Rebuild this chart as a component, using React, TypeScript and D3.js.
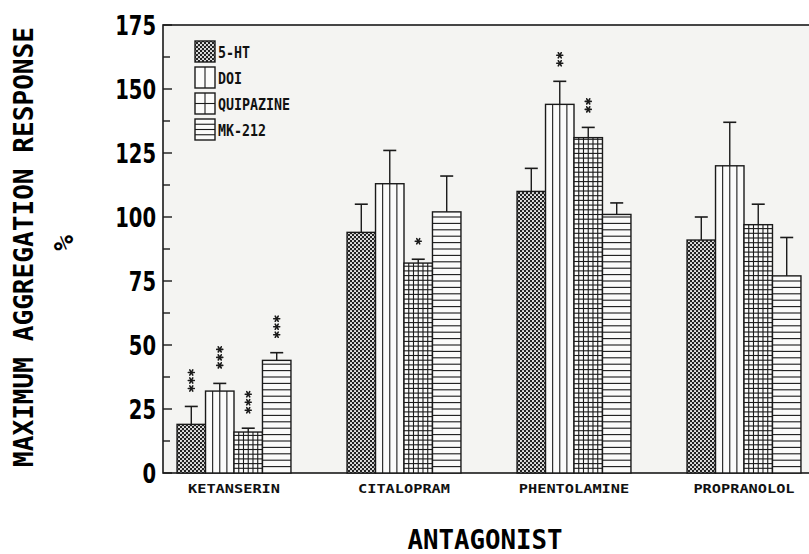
import { useMemo } from 'react';
import * as d3 from 'd3';

// Antagonist groups and agonist series
const CATEGORIES = ['KETANSERIN', 'CITALOPRAM', 'PHENTOLAMINE', 'PROPRANOLOL'];
const SERIES = ['5-HT', 'DOI', 'QUIPAZINE', 'MK-212'];

// mean maximum aggregation response (%), per series, per antagonist
const HT5 = [19, 94, 110, 91];
const DOI = [32, 113, 144, 120];
const QUIP = [16, 82, 131, 97];
const MK212 = [44, 102, 101, 77];

// error bar (upper SEM)
const HT5_ERR = [7, 11, 9, 9];
const DOI_ERR = [3, 13, 9, 17];
const QUIP_ERR = [1.5, 1.5, 4, 8];
const MK212_ERR = [3, 14, 4.5, 15];

// number of significance stars
const HT5_SIG = [3, 0, 0, 0];
const DOI_SIG = [3, 0, 2, 0];
const QUIP_SIG = [3, 1, 2, 0];
const MK212_SIG = [3, 0, 0, 0];

const Y_TICKS = [0, 25, 50, 75, 100, 125, 150, 175];

const W = 809;
const H = 554;
const INK = '#1a1a1a';
const MONO = "'DejaVu Sans Mono', monospace";
const COND = "'DejaVu Sans Condensed', 'DejaVu Sans', sans-serif";

const VALUES = [HT5, DOI, QUIP, MK212];
const ERRS = [HT5_ERR, DOI_ERR, QUIP_ERR, MK212_ERR];
const SIGS = [HT5_SIG, DOI_SIG, QUIP_SIG, MK212_SIG];

function Star({ cx, cy }: { cx: number; cy: number }) {
  const r = 3;
  const a = Math.PI / 3;
  return (
    <g stroke={INK} strokeWidth={1.6} strokeLinecap="round">
      {[0, a, 2 * a].map((t, i) => (
        <line key={i}
          x1={cx - r * Math.cos(t)} y1={cy - r * Math.sin(t)}
          x2={cx + r * Math.cos(t)} y2={cy + r * Math.sin(t)} />
      ))}
    </g>
  );
}

// hatch lines drawn inside a rect
function Hatch({ kind, x, y, w, h, base }: { kind: number; x: number; y: number; w: number; h: number; base: number }) {
  const lines: JSX.Element[] = [];
  if (kind === 1) {
    const n = w < 24 ? 2 : 4;
    for (let k = 1; k < n; k++) {
      const lx = x + (k * w) / n;
      lines.push(<line key={'v' + k} x1={lx} x2={lx} y1={y} y2={y + h} />);
    }
  } else if (kind === 2) {
    const nv = w < 24 ? 2 : 6;
    for (let k = 1; k < nv; k++) {
      const lx = x + (k * w) / nv;
      lines.push(<line key={'v' + k} x1={lx} x2={lx} y1={y} y2={y + h} />);
    }
    const step = w < 24 ? h / 2 : 4.7;
    for (let yy = base - step; yy > y + 0.5; yy -= step) {
      lines.push(<line key={'h' + yy} x1={x} x2={x + w} y1={yy} y2={yy} />);
    }
  } else if (kind === 3) {
    const step = w < 24 ? h / 4 : 6.4;
    for (let yy = base - step; yy > y + 0.5; yy -= step) {
      lines.push(<line key={'h' + yy} x1={x} x2={x + w} y1={yy} y2={yy} />);
    }
  }
  return <g stroke={INK} strokeWidth={1.1}>{lines}</g>;
}

export default function App() {
  const x0 = useMemo(() => d3.scaleBand<string>().domain(CATEGORIES)
    .range([149, 829]).paddingInner(0.33).paddingOuter(0.165), []);
  const x1 = useMemo(() => d3.scaleBand<string>().domain(SERIES)
    .range([0, x0.bandwidth()]).padding(0), [x0]);
  const y = useMemo(() => d3.scaleLinear().domain([0, 175]).range([473, 25]), []);

  const left = 163;
  const top = y(175);
  const bottom = y(0);
  const minor = d3.range(0, 175.01, 12.5);

  const fillFor = (s: number) => (s === 0 ? 'url(#dots)' : '#fbfbfa');

  return (
    <svg width={W} height={H} style={{ display: 'block', position: 'absolute', left: 0, top: 0, background: '#ffffff' }}>
      <defs>
        <pattern id="dots" width={4} height={4} patternUnits="userSpaceOnUse">
          <rect width={4} height={4} fill="#222" />
          <circle cx={1} cy={1} r={1.05} fill="#f2f2f2" />
          <circle cx={3} cy={3} r={1.05} fill="#f2f2f2" />
        </pattern>
      </defs>

      {/* plot frame */}
      <rect x={left} y={top} width={W + 20 - left} height={bottom - top} fill="#f4f4f2" stroke={INK} strokeWidth={1.6} />

      {/* y ticks */}
      {minor.map(v => (
        <line key={v} x1={left} x2={left + (v % 25 === 0 ? 9 : 7)} y1={y(v)} y2={y(v)} stroke={INK} strokeWidth={1.4} />
      ))}
      {Y_TICKS.map(v => {
        const s = String(v);
        return (
          <text key={v} x={156} y={y(v) + 10} textAnchor="end" fontFamily={COND} fontWeight="bold"
            fontSize={27} fill="#000" textLength={13.6 * s.length} lengthAdjust="spacingAndGlyphs">{s}</text>
        );
      })}

      {/* bars */}
      {CATEGORIES.map((c, ci) => (
        <g key={c}>
          {SERIES.map((s, si) => {
            const v = VALUES[si][ci];
            const bx = (x0(c) ?? 0) + (x1(s) ?? 0);
            const bw = x1.bandwidth();
            const by = y(v);
            const bh = bottom - by;
            const errTop = y(v + ERRS[si][ci]);
            const cx = bx + bw / 2;
            const nStars = SIGS[si][ci];
            return (
              <g key={s}>
                <line x1={cx} x2={cx} y1={by} y2={errTop} stroke={INK} strokeWidth={1.4} />
                <line x1={cx - 6.5} x2={cx + 6.5} y1={errTop} y2={errTop} stroke={INK} strokeWidth={1.6} />
                <rect x={bx} y={by} width={bw} height={bh} fill={fillFor(si)} />
                <Hatch kind={si} x={bx} y={by} w={bw} h={bh} base={bottom} />
                <rect x={bx} y={by} width={bw} height={bh} fill="none" stroke={INK} strokeWidth={1.4} />
                {d3.range(nStars).map(k => (
                  <Star key={k} cx={cx} cy={errTop - 18 - k * 8} />
                ))}
              </g>
            );
          })}
          <text x={(x0(c) ?? 0) + x0.bandwidth() / 2} y={493} textAnchor="middle" fontFamily={MONO}
            fontSize={12} fontWeight="bold" fill="#111" textLength={c.length * 9.2}
            lengthAdjust="spacingAndGlyphs">{c}</text>
        </g>
      ))}

      {/* legend */}
      {SERIES.map((s, si) => {
        const lx = 195;
        const ly = 41 + si * 26;
        const sw = 20;
        const sh = 21;
        return (
          <g key={s}>
            <rect x={lx} y={ly} width={sw} height={sh} fill={fillFor(si)} />
            <Hatch kind={si} x={lx} y={ly} w={sw} h={sh} base={ly + sh} />
            <rect x={lx} y={ly} width={sw} height={sh} fill="none" stroke={INK} strokeWidth={1.4} />
            <text x={lx + 23} y={ly + sh / 2 + 6} fontFamily={MONO} fontSize={16} fontWeight="bold"
              fill="#111" textLength={s.length * 8} lengthAdjust="spacingAndGlyphs">{s}</text>
          </g>
        );
      })}

      {/* axis titles */}
      <text transform="translate(33,247) rotate(-90)" textAnchor="middle" fontFamily={MONO}
        fontSize={27} fontWeight="bold" fill="#000" textLength={440}
        lengthAdjust="spacingAndGlyphs">MAXIMUM AGGREGATION RESPONSE</text>
      <text transform="translate(73,243) rotate(-90)" textAnchor="middle" fontFamily={MONO}
        fontSize={26} fontWeight="bold" fill="#000">%</text>
      <text x={485} y={549} textAnchor="middle" fontFamily={MONO} fontSize={26} fontWeight="bold"
        fill="#000" textLength={155} lengthAdjust="spacingAndGlyphs">ANTAGONIST</text>
    </svg>
  );
}
